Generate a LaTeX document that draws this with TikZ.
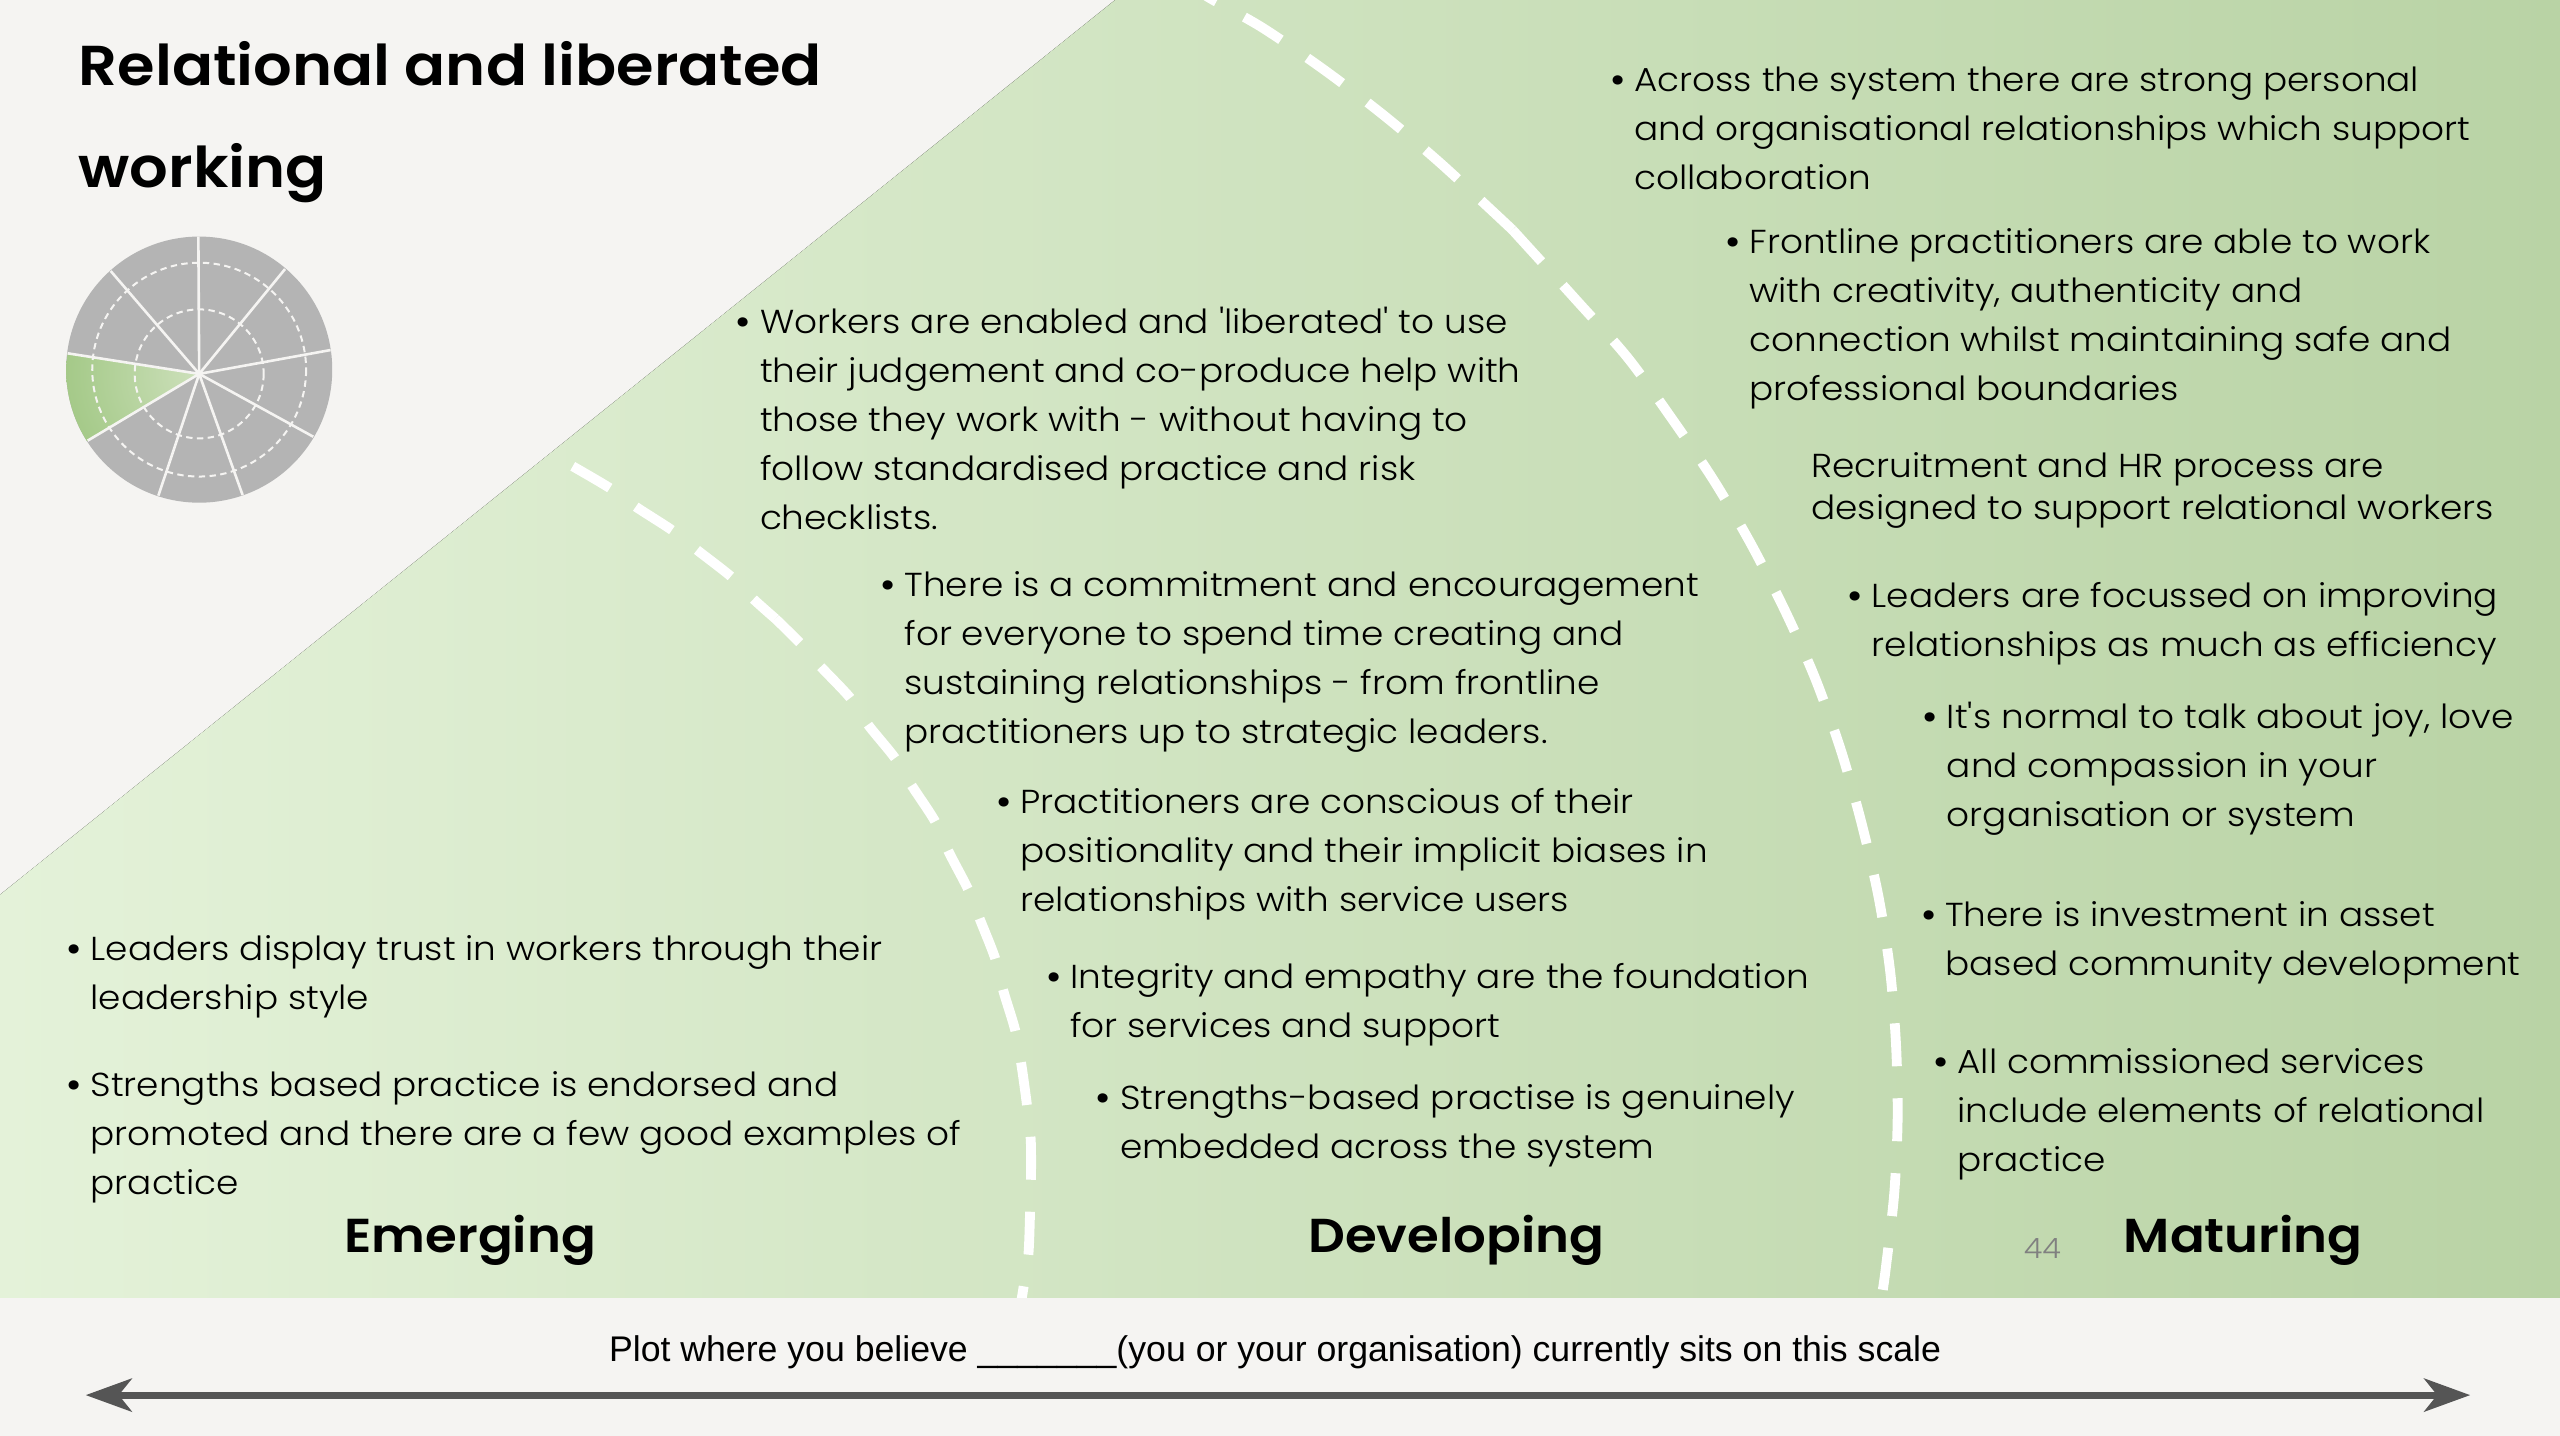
\documentclass[tikz,border=0pt]{standalone}
\usepackage{fontspec}
\usetikzlibrary{arrows.meta}
\setmainfont{Poppins Light}[FakeStretch=1.08,Ligatures=TeXOff]
\newfontfamily\headfont{Poppins SemiBold}[FakeStretch=1.08]
\newfontfamily\arialfont{Liberation Sans}
\definecolor{pagebg}{HTML}{F5F4F2}
\definecolor{greenL}{HTML}{E4F2D9}
\definecolor{greenR}{HTML}{B9D3A5}
\definecolor{wheelgrey}{HTML}{B4B4B4}
\definecolor{wedgeIn}{HTML}{CDE0BB}
\definecolor{wedgeMid}{HTML}{A9CC8E}
\definecolor{wedgeOut}{HTML}{8DB96B}
\definecolor{arrowgrey}{HTML}{555555}
\pgfdeclareradialshading{wedgeshade}{\pgfpoint{0bp}{0bp}}{color(0bp)=(wedgeIn); color(22bp)=(wedgeMid); color(42bp)=(wedgeOut); color(50bp)=(wedgeOut)}
\newcommand{\bul}{\strut\llap{\makebox[12.6pt][l]{\headfont •}}}
\tikzset{
  para/.style={anchor=north west,inner sep=0pt,outer sep=0pt,align=left,text=black,font=\fontsize{16.6pt}{24.5pt}\selectfont},
  paratight/.style={para,font=\fontsize{16.6pt}{21.2pt}\selectfont},
  stage/.style={anchor=base,inner sep=0pt,font=\headfont\fontsize{23.8pt}{30pt}\selectfont},
  bigtitle/.style={anchor=north west,inner sep=0pt,align=left,font=\headfont\fontsize{28.1pt}{50.6pt}\selectfont},
  boundary/.style={white,line width=4.9pt,dash pattern=on 21.5pt off 16pt},
  spoke/.style={pagebg,line width=1.3pt},
  ring/.style={pagebg,line width=1pt,dash pattern=on 3.2pt off 2.2pt},
}
\begin{document}
\begin{tikzpicture}[x=0.8163pt,y=-0.8163pt]
\useasboundingbox (0,0) rectangle (1568,879.5);
\fill[pagebg] (0,0) rectangle (1568,879.5);
\fill[left color=greenL,right color=greenR] (0,548) -- (683,0) -- (1568,0) -- (1568,795) -- (0,795) -- cycle;
\begin{scope}
\clip (0,0) rectangle (1568,795);
\draw[boundary] plot[smooth] coordinates {(350.8,285.6) (373.6,299) (389.6,310.5) (412,325) (426.7,336.7) (448.2,353.5) (461.4,366.9) (475,379)};
\draw[boundary,dash phase=4.5pt] plot[smooth] coordinates {(475,379) (490,393.8) (502.3,407.9) (520.7,427.4) (531.9,444.2) (548.2,464.3) (558.4,481.1) (572.7,503) (580.9,521.4) (593.1,545) (600.3,563.4) (609.5,586.9) (614.6,607.1) (621.7,630.6) (625.4,650.8) (628.9,676) (631.3,697.8) (631.5,721.3) (630.9,743.1) (629.9,768.3) (626.9,788.5) (625.5,797)};
\draw[boundary] plot[smooth] coordinates {(926.4,140.8) (883,100.6) (848,71) (811.6,43.2) (773.3,17) (743,0) (735,-5)};
\draw[boundary] plot[smooth] coordinates {(926.4,140.8) (965.5,183.8) (996.7,218.8) (1023.5,255.7) (1049.5,294) (1072.7,333.6) (1094,375.5) (1112,416) (1127.6,459.7) (1140.2,504.2) (1150.5,548.8) (1157.6,593.9) (1161.3,639.6) (1162.3,685.5) (1160.2,731.2) (1155.1,776.3) (1153.2,790)};
\end{scope}
% wheel
\coordinate (hub) at (122,229);
\coordinate (wheelmid) at (122,226.4);
\fill[wheelgrey] (wheelmid) circle (81.5);
\begin{scope}
\clip (wheelmid) circle (81.5);
\clip (hub) -- (17.2,212.6) -- (10,282) -- (33.2,282.2) -- cycle;
\shade[shading=wedgeshade] (hub) circle (81.5);
\end{scope}
\draw[ring] (hub) circle (39.5);
\draw[ring] (wheelmid) circle (65.5);
\foreach \p in {(121.5,145),(174.6,164.8),(202.5,214.4),(191.9,267.5),(148.6,303.2),(97,303.6),(53.7,269.9),(41.4,216.4),(67.8,166)}{
  \draw[spoke] (hub) -- \p;
}
\node[bigtitle] (title) at (48,9) {\strut Relational and liberated\\\strut working};
% texts
\node[para] (a1) at (1001,35.3) {\bul Across the system there are strong personal\\and organisational relationships which support\\collaboration};
\node[para] (a2) at (1071.5,134.3) {\bul Frontline practitioners are able to work\\with creativity, authenticity and\\connection whilst maintaining safe and\\professional boundaries};
\node[paratight] (a3) at (1109.5,274) {\strut Recruitment and HR process are\\designed to support relational workers};
\node[para] (a4) at (1146.5,351.3) {\bul Leaders are focussed on improving\\relationships as much as efficiency};
\node[para] (a5) at (1192.5,425.3) {\bul It's normal to talk about joy, love\\and compassion in your\\organisation or system};
\node[para] (a6) at (1191.5,546.3) {\bul There is investment in asset\\based community development};
\node[para] (a7) at (1199,636.3) {\bul All commissioned services\\include elements of relational\\practice};
\node[para] (b1) at (465.5,183.5) {\bul Workers are enabled and 'liberated' to use\\their judgement and co-produce help with\\those they work with - without having to\\follow standardised practice and risk\\checklists.};
\node[para] (b2) at (554,344.5) {\bul There is a commitment and encouragement\\for everyone to spend time creating and\\sustaining relationships - from frontline\\practitioners up to strategic leaders.};
\node[para] (b3) at (625,477.5) {\bul Practitioners are conscious of their\\positionality and their implicit biases in\\relationships with service users};
\node[para] (b4) at (655.5,584.3) {\bul Integrity and empathy are the foundation\\for services and support};
\node[para] (b5) at (686,658.3) {\bul Strengths-based practise is genuinely\\embedded across the system};
\node[para] (c1) at (55.5,567) {\bul Leaders display trust in workers through their\\leadership style};
\node[para] (c2) at (55.5,650.7) {\bul Strengths based practice is endorsed and\\promoted and there are a few good examples of\\practice};
\node[stage] (emerging) at (288,767) {Emerging};
\node[stage] (developing) at (892,767) {Developing};
\node[stage] (maturing) at (1374,767) {Maturing};
\node[anchor=base,inner sep=0pt,text=black!50,font=\fontsize{14pt}{16pt}\selectfont] (pageno) at (1251,771) {44};
\node[anchor=base,inner sep=0pt,font=\arialfont\fontsize{17.83pt}{20pt}\selectfont] (plot) at (781,834) {Plot where you believe \_\_\_\_\_\_\_(you or your organisation) currently sits on this scale};
\coordinate (arrowL) at (52.5,854.5);
\coordinate (arrowR) at (1513,854.5);
\draw[arrowgrey,line width=3.6pt,{Stealth[length=23pt,width=16.5pt,inset=6.5pt]}-{Stealth[length=23pt,width=16.5pt,inset=6.5pt]}] (arrowL) -- (arrowR);
\end{tikzpicture}
\end{document}
